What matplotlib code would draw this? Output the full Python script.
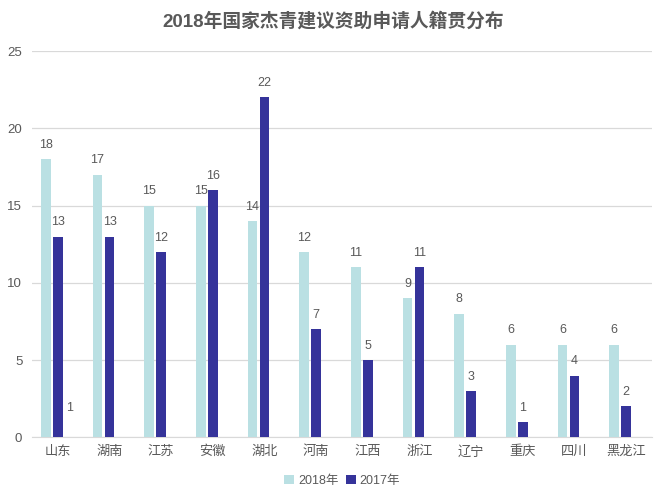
import numpy as np
import matplotlib
matplotlib.use("Agg")
import matplotlib.pyplot as plt

plt.rcParams['font.family'] = ['Liberation Sans', 'Noto Sans CJK SC', 'DejaVu Sans']

# data
provinces = ['山东', '湖南', '江苏', '安徽', '湖北', '河南', '江西', '浙江', '辽宁', '重庆', '四川', '黑龙江']
y2018 = [18, 17, 15, 15, 14, 12, 11, 9, 8, 6, 6, 6]
y2017 = [13, 13, 12, 16, 22, 7, 5, 11, 3, 1, 4, 2]
# stray label in the original (third, invisible series)
extra = [1, None, None, None, None, None, None, None, None, None, None, None]

c2018 = '#BAE0E3'
c2017 = '#35339A'
grey = '#595959'

fig = plt.figure(figsize=(6.67, 5.01), dpi=100)
ax = fig.add_axes([0.048, 0.127, 0.9295, 0.771])

x = np.arange(len(provinces))
w = 0.185
off = 0.232

b1 = ax.bar(x - off, y2018, w, color=c2018, label='2018年', zorder=3)
b2 = ax.bar(x, y2017, w, color=c2017, label='2017年', zorder=3)
ax.bar_label(b1, padding=6, fontsize=9, color=grey)
ax.bar_label(b2, padding=6, fontsize=9, color=grey)

ex_vals = [v if v is not None else 0 for v in extra]
b3 = ax.bar(x + off, ex_vals, w, color='none', zorder=3)
ax.bar_label(b3, labels=[str(v) if v is not None else '' for v in extra],
             padding=6, fontsize=9, color=grey)

ax.set_xlim(-0.5, len(provinces) - 0.5)
ax.set_ylim(0, 25)
ax.set_yticks([0, 5, 10, 15, 20, 25])
ax.set_xticks(x)
ax.set_xticklabels(provinces)
ax.yaxis.grid(True, color='#D9D9D9', linewidth=0.9, zorder=0)
ax.tick_params(axis='both', length=0, labelsize=9.5, colors=grey)
ax.tick_params(axis='y', pad=7)
ax.tick_params(axis='x', pad=6)
for s in ['top', 'right', 'left']:
    ax.spines[s].set_visible(False)
ax.spines['bottom'].set_color('#D9D9D9')

fig.suptitle('2018年国家杰青建议资助申请人籍贯分布', x=0.5, y=0.977,
             fontsize=13.5, fontweight='bold', color=grey)

ax.legend(loc='upper center', bbox_to_anchor=(0.5, -0.068), ncol=2, frameon=False,
          fontsize=9, labelcolor=grey, handlelength=0.8, handleheight=0.8,
          handletextpad=0.3, columnspacing=0.6)

fig.savefig('out.png', dpi=100)
